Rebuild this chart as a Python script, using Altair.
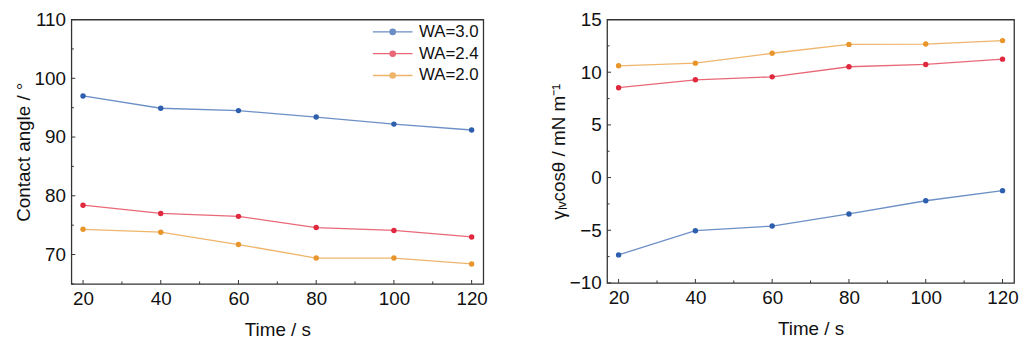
import altair as alt
import pandas as pd

# ---- data ----
time = [20, 40, 60, 80, 100, 120]
series = ["WA=3.0", "WA=2.4", "WA=2.0"]
colors = ["#2e5fae", "#e0283e", "#e8962c"]

angle_wa30 = [97.0, 94.9, 94.5, 93.4, 92.2, 91.2]
angle_wa24 = [78.4, 77.0, 76.5, 74.6, 74.1, 73.0]
angle_wa20 = [74.3, 73.8, 71.7, 69.4, 69.4, 68.4]

gcos_wa30 = [-7.34, -5.04, -4.60, -3.45, -2.20, -1.24]
gcos_wa24 = [8.53, 9.28, 9.56, 10.52, 10.74, 11.24]
gcos_wa20 = [10.61, 10.86, 11.80, 12.64, 12.67, 13.00]

x_major = [20, 40, 60, 80, 100, 120]
x_minor = [30, 50, 70, 90, 110]
left_y_major = [70, 80, 90, 100, 110]
left_y_minor = [65, 75, 85, 95, 105]
right_y_major = [-10, -5, 0, 5, 10, 15]
right_y_minor = [-7.5, -2.5, 2.5, 7.5, 12.5]

FONT = "Liberation Sans"
AXIS_COLOR = "#333333"


def long_df(cols):
    rows = []
    for name, vals in zip(series, cols):
        for t, v in zip(time, vals):
            rows.append({"time": t, "val": v, "series": name})
    return pd.DataFrame(rows)


angle_df = long_df([angle_wa30, angle_wa24, angle_wa20])
gcos_df = long_df([gcos_wa30, gcos_wa24, gcos_wa20])

LEGEND_PATH = ("M-4,0H4M-0.54,0A0.54,0.54,0,1,1,0.54,0"
               "A0.54,0.54,0,1,1,-0.54,0Z")


def panel(df, ydomain, ymajor, yminor, ytitle, width, height, show_legend):
    xscale = alt.Scale(domain=[17, 123], nice=False, zero=False)
    yscale = alt.Scale(domain=ydomain, nice=False, zero=False)
    xaxis = alt.Axis(values=x_major, title="Time / s", tickSize=0,
                     labelPadding=6, titlePadding=12, domain=False,
                     grid=False)
    yaxis = alt.Axis(values=ymajor, title=ytitle, tickSize=0,
                     labelPadding=6, titlePadding=1, domain=False,
                     grid=False)
    if show_legend:
        legend = alt.Legend(orient="none", legendX=316, legendY=4,
                            title=None, symbolType=LEGEND_PATH,
                            symbolSize=100, symbolStrokeWidth=1.3,
                            labelFontSize=17, labelFont=FONT,
                            labelColor="#111111", labelOffset=18,
                            rowPadding=4)
    else:
        legend = None
    color = alt.Color("series:N", scale=alt.Scale(domain=series, range=colors),
                      legend=legend, sort=series)
    base = alt.Chart(df).encode(
        x=alt.X("time:Q", scale=xscale, axis=xaxis),
        y=alt.Y("val:Q", scale=yscale, axis=yaxis),
        color=color,
        detail="series:N",
    )
    line = base.mark_line(strokeWidth=1.3, opacity=0.7)
    pts = base.mark_point(filled=True, size=30, opacity=1)

    def xt(vals, ln):
        return alt.Chart(pd.DataFrame({"time": vals})).mark_rule(
            color=AXIS_COLOR, strokeWidth=1).encode(
            x=alt.X("time:Q", scale=xscale, axis=xaxis),
            y=alt.value(height), y2=alt.value(height - ln))

    def yt(vals, ln):
        return alt.Chart(pd.DataFrame({"val": vals})).mark_rule(
            color=AXIS_COLOR, strokeWidth=1).encode(
            y=alt.Y("val:Q", scale=yscale, axis=yaxis),
            x=alt.value(0), x2=alt.value(ln))

    return alt.layer(
        xt(x_major, 4), xt(x_minor, 2.5), yt(ymajor, 4), yt(yminor, 2.5),
        line, pts
    ).properties(width=width, height=height)


left = panel(angle_df, [65, 110], left_y_major, left_y_minor,
             "Contact angle / °", 416, 267, True)
right = panel(gcos_df, [-10, 15], right_y_major, right_y_minor,
              "γₗᵥcosθ / mN m⁻¹", 411, 266, False)

chart = alt.hconcat(left, right, spacing=61).properties(
    padding={"left": 5, "top": 0, "right": 0, "bottom": 0}
).configure_view(
    stroke=AXIS_COLOR, strokeWidth=1.3
).configure_axis(
    labelFont=FONT, titleFont=FONT, labelFontSize=19, titleFontSize=19,
    labelColor="#111111", titleColor="#111111", titleFontWeight="normal"
)

chart.save("out.html", embed_options={"renderer": "svg", "actions": False})
